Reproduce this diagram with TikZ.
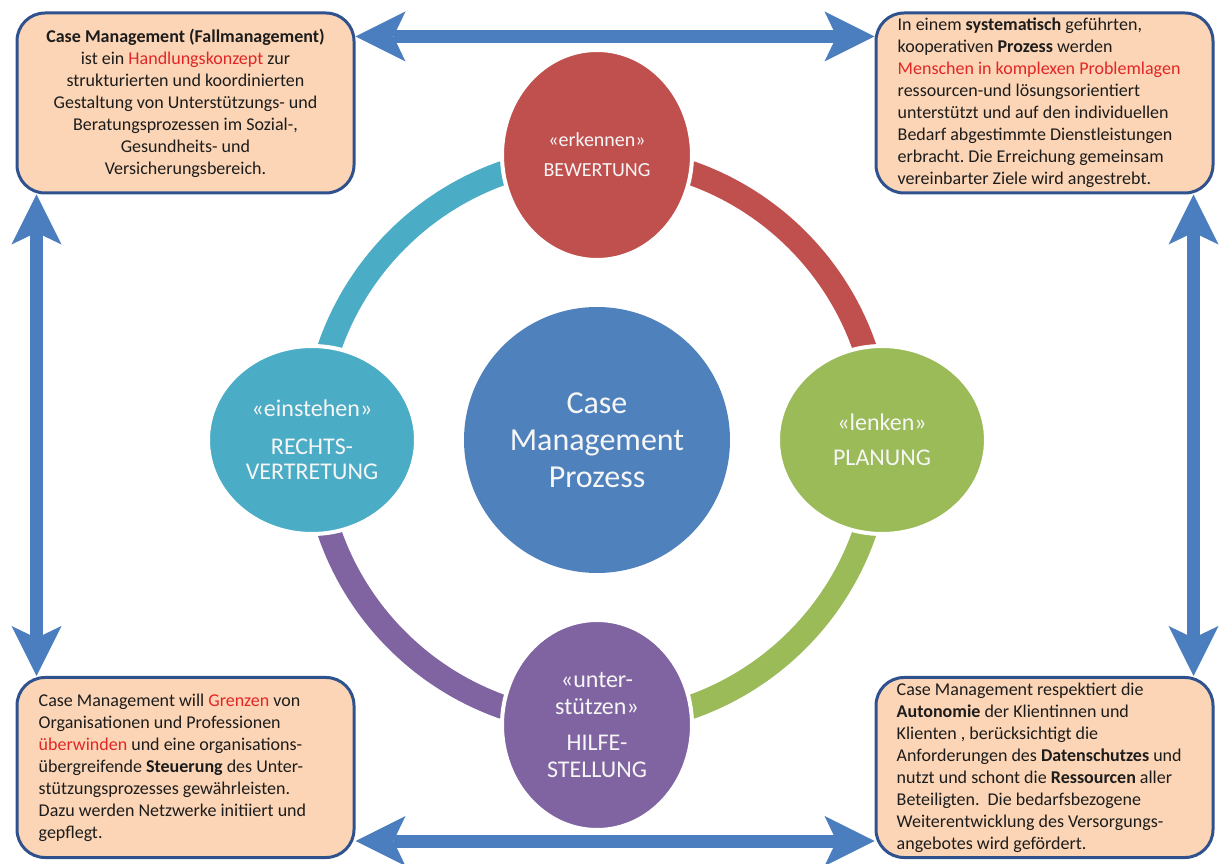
\documentclass[tikz,border=0pt]{standalone}
\usepackage{fontspec}
\setmainfont{Carlito}
\usetikzlibrary{arrows.meta,shapes.geometric}
\definecolor{boxfill}{RGB}{251,213,181}
\definecolor{boxline}{RGB}{47,82,143}
\definecolor{cmblue}{RGB}{79,129,189}
\definecolor{arrblue}{RGB}{74,126,190}
\definecolor{cmred}{RGB}{192,80,77}
\definecolor{cmgreen}{RGB}{155,187,89}
\definecolor{cmteal}{RGB}{75,172,198}
\definecolor{cmpurple}{RGB}{128,100,162}
\definecolor{hired}{RGB}{226,38,38}
\definecolor{txt}{RGB}{28,28,28}
\definecolor{ltxt}{RGB}{246,246,246}
\frenchspacing
\begin{document}
\begin{tikzpicture}[x=1pt,y=1pt,
  infobox/.style={draw=boxline, line width=3pt, fill=boxfill, rounded corners=28pt,
    minimum width=337pt, minimum height=180pt, inner sep=0pt},
  boxtext/.style={text=txt, font=\fontsize{18}{22}\selectfont, inner sep=0pt},
  phase/.style={ellipse, draw=white, line width=4pt, inner sep=0pt, text=ltxt, align=center},
  ring/.style={line width=24pt},
  bigarrow/.style={draw=arrblue, fill=arrblue, line width=13pt, {Stealth[length=50pt,width=50pt,inset=12pt,line width=0pt]}-{Stealth[length=50pt,width=50pt,inset=12pt,line width=0pt]}}
]
\useasboundingbox (0,0) rectangle (1219,863);

% ring arcs
\coordinate (rc) at (597,423);
\draw[ring, cmred]    ([shift={(90:283)}]rc)  arc[start angle=90,  end angle=0,    radius=283];
\draw[ring, cmgreen]  ([shift={(0:283)}]rc)   arc[start angle=0,   end angle=-90,  radius=283];
\draw[ring, cmpurple] ([shift={(-90:283)}]rc) arc[start angle=-90, end angle=-180, radius=283];
\draw[ring, cmteal]   ([shift={(180:283)}]rc) arc[start angle=180, end angle=90,   radius=283];

% centre
\node[circle, fill=cmblue, minimum size=266pt, inner sep=0pt, text=ltxt, align=center,
      font=\fontsize{32}{37}\selectfont] (cm) at (rc) {Case\\Management\\Prozess};

% phases
\node[phase, fill=cmred, minimum width=190pt, minimum height=210pt,
      font=\fontsize{20}{24}\selectfont] (bew) at (597,708) {«erkennen»\\[6pt]BEWERTUNG};
\node[phase, fill=cmgreen, minimum width=208pt, minimum height=188pt,
      font=\fontsize{24}{25}\selectfont] (plan) at (882,423) {«lenken»\\[10pt]PLANUNG};
\node[phase, fill=cmpurple, minimum width=190pt, minimum height=210pt,
      font=\fontsize{24}{27}\selectfont] (hilfe) at (597,138) {«unter-\\stützen»\\[9pt]HILFE-\\STELLUNG};
\node[phase, fill=cmteal, minimum width=208pt, minimum height=188pt,
      font=\fontsize{24}{25}\selectfont] (recht) at (312,423) {«einstehen»\\[13pt]RECHTS-\\VERTRETUNG};

% info boxes
\node[infobox] (tl) at (185.5,760) {};
\node[infobox] (tr) at (1044.5,760) {};
\node[infobox] (bl) at (185.5,95.5) {};
\node[infobox] (br) at (1044.5,95.5) {};

\node[boxtext, align=center] (tlt) at (tl.center) {\textbf{Case Management (Fallmanagement)}\\
ist ein \textcolor{hired}{Handlungskonzept} zur\\
strukturierten und koordinierten\\
Gestaltung von Unterstützungs- und\\
Beratungsprozessen im Sozial-,\\
Gesundheits- und\\
Versicherungsbereich.};

\node[boxtext, align=left, anchor=west] (trt) at ([xshift=23pt]tr.west) {In einem \textbf{systematisch} geführten,\\
kooperativen \textbf{Prozess} werden\\
\textcolor{hired}{Menschen in komplexen Problemlagen}\\
ressourcen-und lösungsorientiert\\
unterstützt und auf den individuellen\\
Bedarf abgestimmte Dienstleistungen\\
erbracht. Die Erreichung gemeinsam\\
vereinbarter Ziele wird angestrebt.};

\node[boxtext, align=left, anchor=west] (blt) at ([xshift=23pt]bl.west) {Case Management will \textcolor{hired}{Grenzen} von\\
Organisationen und Professionen\\
\textcolor{hired}{überwinden} und eine organisations-\\
übergreifende \textbf{Steuerung} des Unter-\\
stützungsprozesses gewährleisten.\\
Dazu werden Netzwerke initiiert und\\
gepflegt.};

\node[boxtext, align=left, anchor=west] (brt) at ([xshift=22pt]br.west) {Case Management respektiert die\\
\textbf{Autonomie} der Klientinnen und\\
Klienten , berücksichtigt die\\
Anforderungen des \textbf{Datenschutzes} und\\
nutzt und schont die \textbf{Ressourcen} aller\\
Beteiligten.~ Die bedarfsbezogene\\
Weiterentwicklung des Versorgungs-\\
angebotes wird gefördert.};

% arrows between boxes
\draw[bigarrow] ([yshift=-25pt]tl.north east) -- ([yshift=-25pt]tr.north west);
\draw[bigarrow] ([yshift=18pt]bl.south east) -- ([yshift=18pt]br.south west);
\draw[bigarrow] ([xshift=21pt]tl.south west) -- ([xshift=21pt]bl.north west);
\draw[bigarrow] ([xshift=-21pt]tr.south east) -- ([xshift=-21pt]br.north east);
\end{tikzpicture}
\end{document}
